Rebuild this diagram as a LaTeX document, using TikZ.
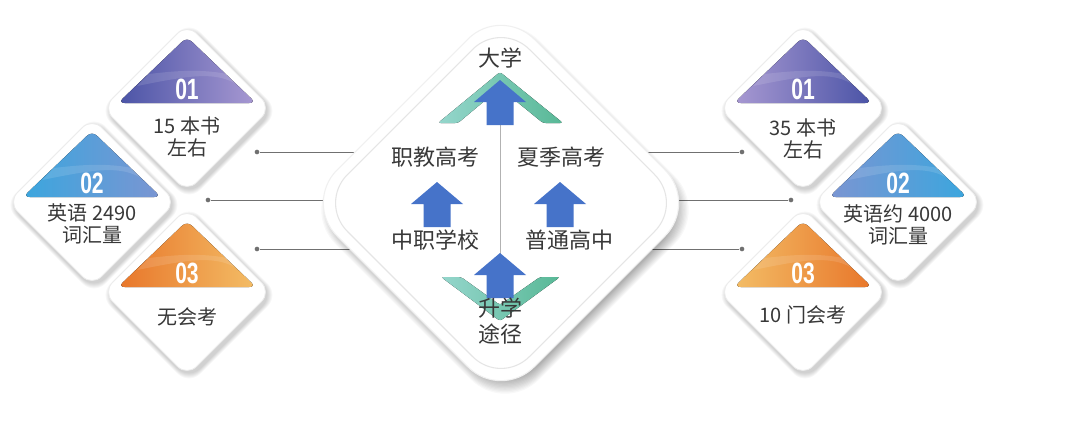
\documentclass[tikz,border=0pt]{standalone}
\usepackage{fontspec}
\newfontfamily\cjk{Noto Sans CJK SC}
\newfontfamily\numf{Liberation Sans}[FakeStretch=0.72]
\definecolor{purpD}{HTML}{4A53A6}
\definecolor{purpL}{HTML}{A899D2}
\definecolor{blueC}{HTML}{3BA6DE}
\definecolor{blueP}{HTML}{7B95D2}
\definecolor{orgD}{HTML}{E8762A}
\definecolor{orgL}{HTML}{F3BD66}
\definecolor{tealL}{HTML}{95D6CC}
\definecolor{tealD}{HTML}{58B896}
\definecolor{arrowblue}{HTML}{4673C9}
\definecolor{txt}{HTML}{383838}
\definecolor{lgray}{HTML}{707070}
\newcommand{\dia}[3]{({#1},{(#2)-(#3)}) -- ({(#1)+(#3)},{#2}) -- ({#1},{(#2)+(#3)}) -- ({(#1)-(#3)},{#2}) -- cycle}
% name, cx, cy, left colour, right colour, number, text, text offset
\newcommand{\sdiam}[8]{%
  \foreach \k in {1,...,6} \fill[black,opacity=0.03,rounded corners=12pt] \dia{#2+2}{#3+3}{84+\k};
  \fill[white,rounded corners=10pt] \dia{#2}{#3}{84};
  \draw[gray!15,line width=0.6pt,rounded corners=10pt] \dia{#2}{#3}{84};
  \fill[left color=#4,right color=#5,rounded corners=5pt] ({#2},{#3-71}) -- ({#2+69},{#3-5}) -- ({#2-69},{#3-5}) -- cycle;
  \fill[white,opacity=0.12] ({#2-50},{#3-22}) .. controls ({#2},{#3-32}) and ({#2+30},{#3-38}) .. ({#2+52},{#3-22}) -- ({#2+40},{#3-34}) .. controls ({#2+10},{#3-40}) and ({#2-20},{#3-36}) .. ({#2-38},{#3-34}) -- cycle;
  \node[numtxt] (#1n) at ({#2},{#3-19}) {#6};
  \node[lbl] (#1t) at ({#2},{#3+#8}) {#7};
}
\tikzset{
  numtxt/.style={text=white,font=\numf\bfseries\fontsize{22}{22}\selectfont,inner sep=0pt},
  lbl/.style={text=txt,font=\cjk\fontsize{15}{16}\selectfont,align=center,inner sep=0pt},
  ctxt/.style={text=txt,font=\cjk\fontsize{16.5}{19}\selectfont,align=center,inner sep=0pt},
  conn/.style={draw=lgray,line width=0.6pt},
  dotnode/.style={circle,fill=lgray,inner sep=0pt,minimum size=3.5pt},
  vline/.style={draw=gray!60,line width=0.6pt},
  uparr/.pic={\fill[arrowblue] (0,0) -- (26,22) -- (13.5,22) -- (13.5,45) -- (-13.5,45) -- (-13.5,22) -- (-26,22) -- cycle;}
}
\begin{document}
\begin{tikzpicture}[x=0.75pt,y=-0.75pt]
\useasboundingbox[fill=white] (0,0) rectangle (1080,421);

% connectors
\node[dotnode] (dl1) at (257,152) {};
\node[dotnode] (dl2) at (208,200) {};
\node[dotnode] (dl3) at (257,249) {};
\node[dotnode] (dr1) at (742,152) {};
\node[dotnode] (dr2) at (791,200) {};
\node[dotnode] (dr3) at (742,249) {};
\coordinate (el1) at (356,152);
\coordinate (el2) at (324,200);
\coordinate (el3) at (351,249);
\coordinate (er1) at (646,152);
\coordinate (er2) at (678,200);
\coordinate (er3) at (651,249);
\draw[conn] (dl1) -- (el1);
\draw[conn] (dl2) -- (el2);
\draw[conn] (dl3) -- (el3);
\draw[conn] (dr1) -- (er1);
\draw[conn] (dr2) -- (er2);
\draw[conn] (dr3) -- (er3);

% central diamond
\foreach \k in {1,...,12} \fill[black,opacity=0.028,rounded corners=36pt] \dia{505}{210}{188+\k*1.3};
\fill[white,rounded corners=35pt] \dia{501}{203}{197};
\draw[gray!12,line width=0.8pt,rounded corners=35pt] \dia{501}{203}{197};
\draw[gray!20,line width=0.8pt,fill=white,rounded corners=30pt] \dia{501}{203}{182};

% vertical line
\coordinate (vt) at (500,125);
\coordinate (vb) at (500,254);
\draw[vline] (vt) -- (vb);

% chevrons
\fill[left color=tealL,right color=tealD,rounded corners=2pt] (438,123) -- (500,72) -- (563,123) -- (543,123) -- (500,88) -- (458,123) -- cycle;
\fill[left color=tealL,right color=tealD,rounded corners=2pt] (441,277) -- (461,277) -- (500,305) -- (540,277) -- (560,277) -- (500,321) -- cycle;

% arrows
\pic at (500,80) {uparr};
\pic at (437,182) {uparr};
\pic at (560,182) {uparr};
\pic at (500,253) {uparr};

% central texts
\node[ctxt] (daxue) at (500,58) {大学};
\node[ctxt] (zjgk) at (435,157) {职教高考};
\node[ctxt] (xjgk) at (561,157) {夏季高考};
\node[ctxt] (zzxx) at (435,240) {中职学校};
\node[ctxt] (ptgz) at (569,240) {普通高中};
\node[ctxt] (sxtj) at (500,321) {升学\\途径};

% small diamonds
\sdiam{la}{187}{108}{purpD}{purpL}{01}{15 本书\\左右}{29}
\sdiam{lb}{92}{202}{blueC}{blueP}{02}{英语 2490\\词汇量}{22}
\sdiam{lc}{187}{292}{orgD}{orgL}{03}{无会考}{25}
\sdiam{ra}{803}{108}{purpL}{purpD}{01}{35 本书\\左右}{31}
\sdiam{rb}{898}{202}{blueP}{blueC}{02}{英语约 4000\\词汇量}{23}
\sdiam{rc}{803}{292}{orgL}{orgD}{03}{10 门会考}{23}
\end{tikzpicture}
\end{document}
